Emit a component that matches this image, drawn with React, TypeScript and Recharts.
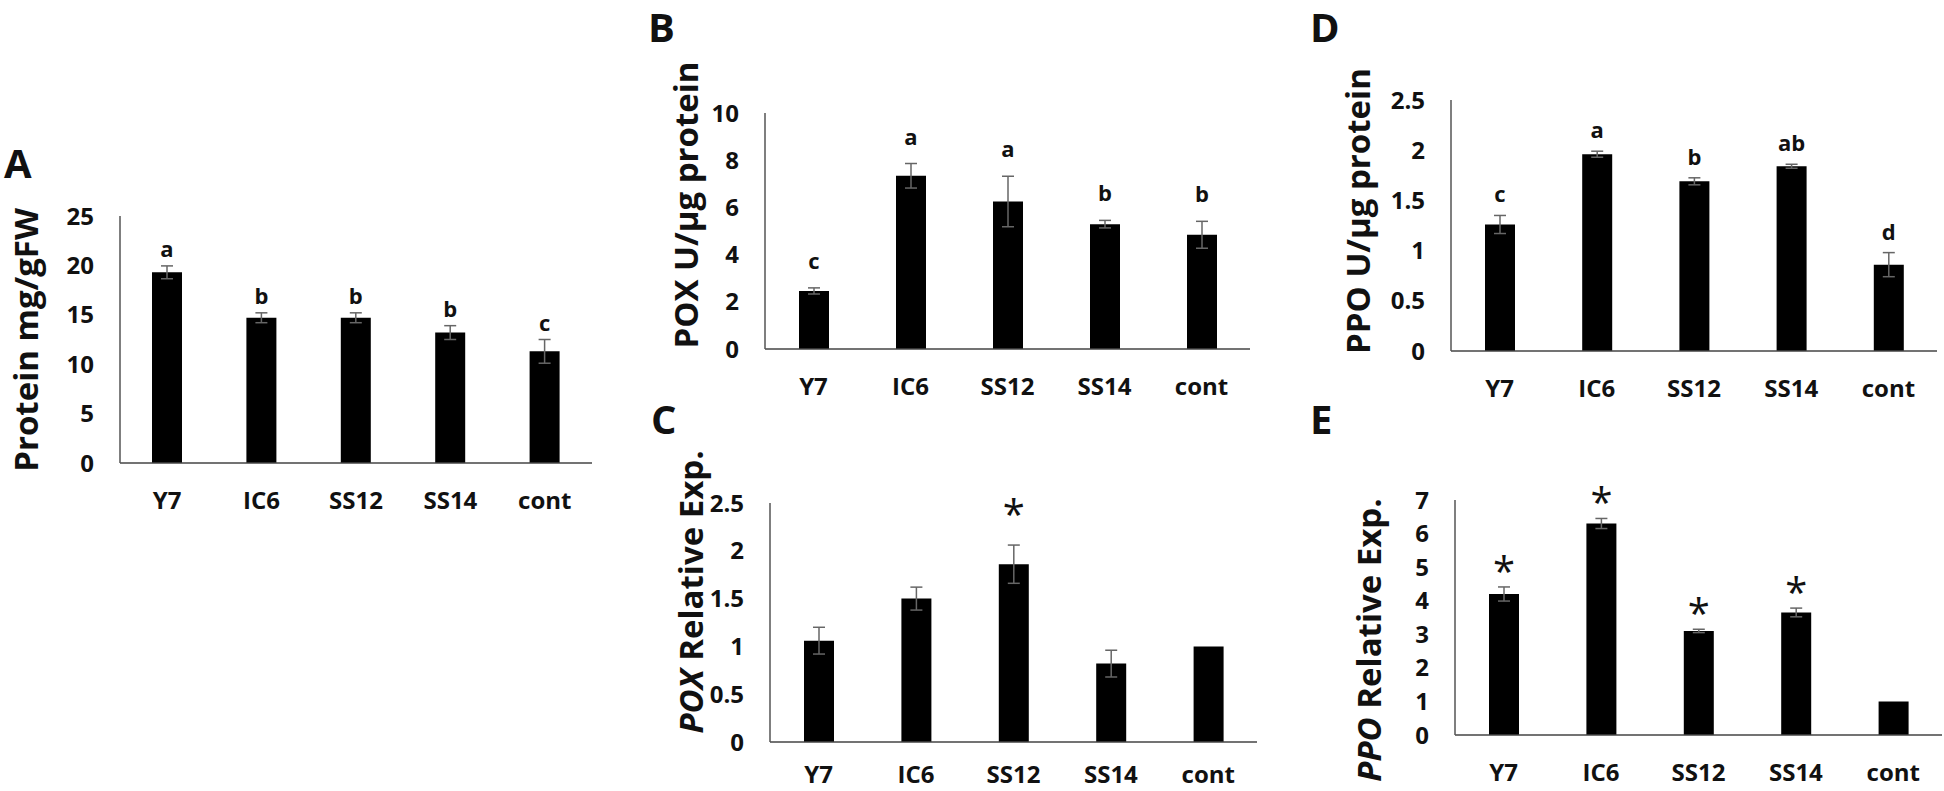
import React from "react";
import { BarChart, Bar, XAxis, YAxis, ErrorBar, LabelList } from "recharts";

const categories = ["Y7", "IC6", "SS12", "SS14", "cont"];

// A: protein
const proteinVals = [19.3, 14.7, 14.7, 13.2, 11.3];
const proteinErr = [0.65, 0.5, 0.5, 0.7, 1.2];
const proteinLetters = ["a", "b", "b", "b", "c"];
const proteinTicks = [0, 5, 10, 15, 20, 25];

// B: POX activity
const poxVals = [2.46, 7.34, 6.25, 5.29, 4.84];
const poxErr = [0.13, 0.52, 1.07, 0.16, 0.57];
const poxLetters = ["c", "a", "a", "b", "b"];
const poxTicks = [0, 2, 4, 6, 8, 10];

// D: PPO activity
const ppoVals = [1.26, 1.96, 1.69, 1.84, 0.86];
const ppoErr = [0.09, 0.03, 0.035, 0.02, 0.12];
const ppoLetters = ["c", "a", "b", "ab", "d"];
const ppoTicks = [0, 0.5, 1, 1.5, 2, 2.5];

// C: POX expression
const poxExpVals = [1.06, 1.5, 1.86, 0.82, 1.0];
const poxExpErr = [0.14, 0.12, 0.2, 0.14, 0];
const poxExpMarks = ["", "", "*", "", ""];
const poxExpTicks = [0, 0.5, 1, 1.5, 2, 2.5];

// E: PPO expression
const ppoExpVals = [4.2, 6.3, 3.1, 3.65, 1.0];
const ppoExpErr = [0.21, 0.15, 0.05, 0.13, 0];
const ppoExpMarks = ["*", "*", "*", "*", ""];
const ppoExpTicks = [0, 1, 2, 3, 4, 5, 6, 7];

const FONT = "'Open Sans', sans-serif";
const LEFT = 140;
const TOP = 60;
const BOTTOM = 70;

type PanelProps = {
  tag: string;
  tagX: number;
  tagY: number;
  x0: number;
  y0: number;
  w: number;
  h: number;
  vals: number[];
  errs: number[];
  marks: string[];
  ticks: number[];
  label: React.ReactNode;
  labelX: number;
  labelY: number;
  star?: boolean;
  gap: number;
  xMargin?: number;
};

function Panel(p: PanelProps) {
  const max = p.ticks[p.ticks.length - 1];
  const data = categories.map((c, i) => ({ name: c, v: p.vals[i], err: p.errs[i] }));
  const left = p.x0 - LEFT;
  const top = p.y0 - TOP;

  const renderMark = (lp: any) => {
    const i = lp.index;
    const m = p.marks[i];
    if (!m) return null;
    const cx = lp.x + lp.width / 2;
    const c = lp.y - (p.errs[i] * p.h) / max - p.gap;
    if (p.star) {
      return (
        <text x={cx} y={c + 22} textAnchor="middle" fontSize={40} fontFamily={FONT} fill="#111">
          {m}
        </text>
      );
    }
    return (
      <text
        x={cx}
        y={c}
        textAnchor="middle"
        dominantBaseline="central"
        fontSize={22}
        fontWeight="bold"
        fontFamily={FONT}
        fill="#111"
      >
        {m}
      </text>
    );
  };

  return (
    <>
      <div
        style={{
          position: "absolute",
          left: p.tagX,
          top: p.tagY - 7,
          fontFamily: FONT,
          fontWeight: "bold",
          fontSize: 40,
          lineHeight: 1,
          color: "#111",
        }}
      >
        {p.tag}
      </div>
      <div style={{ position: "absolute", left, top }}>
        <BarChart
          width={p.w + LEFT + 3}
          height={p.h + TOP + BOTTOM}
          data={data}
          margin={{ top: TOP, right: 3, left: 0, bottom: 0 }}
        >
          <XAxis
            dataKey="name"
            height={BOTTOM}
            tickLine={false}
            tickMargin={p.xMargin ?? 23}
            stroke="#444"
            strokeWidth={1.5}
            tick={{ fill: "#111", fontSize: 24, fontWeight: "bold", fontFamily: FONT }}
          />
          <YAxis
            width={LEFT}
            domain={[0, max]}
            ticks={p.ticks}
            interval={0}
            tickLine={false}
            tickMargin={20}
            stroke="#555"
            strokeWidth={1.5}
            tick={{ fill: "#111", fontSize: 24, fontWeight: "bold", fontFamily: FONT }}
            label={() => (
              <text
                x={p.labelX - left}
                y={p.labelY - top}
                transform={`rotate(-90, ${p.labelX - left}, ${p.labelY - top})`}
                textAnchor="middle"
                dominantBaseline="central"
                fontSize={33}
                fontWeight="bold"
                fontFamily={FONT}
                fill="#111"
              >
                {p.label}
              </text>
            )}
          />
          <Bar dataKey="v" fill="#000" barSize={30} isAnimationActive={false}>
            <ErrorBar
              dataKey="err"
              width={6}
              stroke="#666"
              strokeWidth={1.5}
              direction="y"
              isAnimationActive={false}
            />
            <LabelList dataKey="v" content={renderMark} />
          </Bar>
        </BarChart>
      </div>
    </>
  );
}

export default function App() {
  return (
    <div
      style={{
        position: "absolute",
        left: 0,
        top: 0,
        width: 1944,
        height: 791,
        overflow: "hidden",
        background: "#fff",
      }}
    >
      <Panel
        tag="A"
        tagX={4}
        tagY={150}
        x0={120}
        y0={216}
        w={472}
        h={247}
        vals={proteinVals}
        errs={proteinErr}
        marks={proteinLetters}
        ticks={proteinTicks}
        label="Protein mg/gFW"
        labelX={25}
        labelY={340}
        gap={18}
      />
      <Panel
        tag="B"
        tagX={648}
        tagY={14}
        x0={765}
        y0={113}
        w={485}
        h={236}
        vals={poxVals}
        errs={poxErr}
        marks={poxLetters}
        ticks={poxTicks}
        label="POX U/µg protein"
        labelX={685}
        labelY={205}
        gap={28}
      />
      <Panel
        tag="D"
        tagX={1310}
        tagY={14}
        x0={1451}
        y0={100}
        w={486}
        h={251}
        vals={ppoVals}
        errs={ppoErr}
        marks={ppoLetters}
        ticks={ppoTicks}
        label="PPO U/µg protein"
        labelX={1357}
        labelY={211}
        gap={22}
      />
      <Panel
        tag="C"
        tagX={651}
        tagY={406}
        x0={770}
        y0={503}
        w={487}
        h={239}
        vals={poxExpVals}
        errs={poxExpErr}
        marks={poxExpMarks}
        ticks={poxExpTicks}
        label={
          <>
            <tspan fontStyle="italic">POX</tspan> Relative Exp.
          </>
        }
        labelX={690}
        labelY={592}
        star
        gap={38}
        xMargin={18}
      />
      <Panel
        tag="E"
        tagX={1310}
        tagY={406}
        x0={1455}
        y0={500}
        w={487}
        h={235}
        vals={ppoExpVals}
        errs={ppoExpErr}
        marks={ppoExpMarks}
        ticks={ppoExpTicks}
        label={
          <>
            <tspan fontStyle="italic">PPO</tspan> Relative Exp.
          </>
        }
        labelX={1368}
        labelY={640}
        star
        gap={23}
      />
    </div>
  );
}
